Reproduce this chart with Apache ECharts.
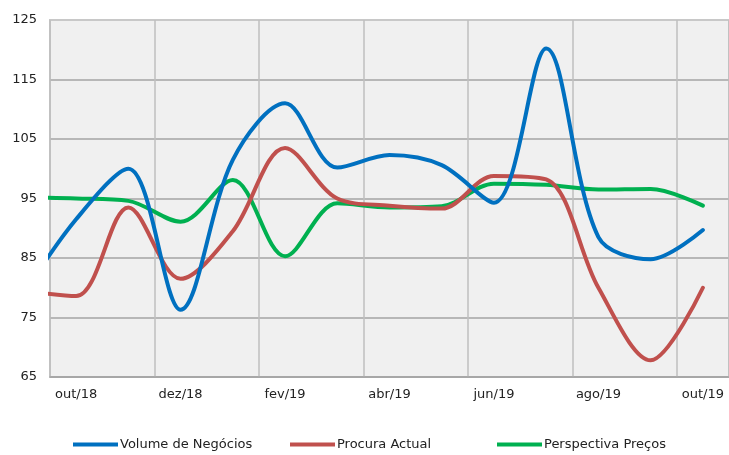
<!DOCTYPE html>
<html>
<head>
<meta charset="utf-8">
<script src="https://cdn.jsdelivr.net/npm/echarts@6/dist/echarts.min.js"></script>
<style>
  html, body { margin: 0; padding: 0; background: #ffffff; }
  #chart { width: 729px; height: 455px; }
</style>
</head>
<body>
<div id="chart"></div>
<script>
// Monthly indicators, Oct 2018 – Oct 2019 (Sep 2018 sits just left of the plot edge)
const months = ['out/18', 'nov/18', 'dez/18', 'jan/19', 'fev/19', 'mar/19', 'abr/19',
                'mai/19', 'jun/19', 'jul/19', 'ago/19', 'set/19', 'out/19'];
const prevMonth = 'set/18';

const seriesNames = ['Volume de Negócios', 'Procura Actual', 'Perspectiva Preços'];

// first value of each list is set/18, then out/18 ... out/19
const volumeNegocios     = [79.0, 91.5, 100.0, 76.3, 101.5, 111.0, 100.2, 102.3, 100.6, 94.3, 120.2, 88.5, 84.8, 89.7];
const procuraActual      = [79.5, 78.6, 93.5, 81.5, 89.5, 103.5, 95.0, 93.8, 93.3, 98.8, 98.2, 80.0, 67.8, 80.0];
const perspectivaPrecos  = [95.2, 95.0, 94.6, 91.1, 98.1, 85.3, 94.2, 93.5, 93.7, 97.5, 97.3, 96.5, 96.6, 93.8];

const yTicks = { min: 65, max: 125, step: 10 };

const colors = ['#0070c0', '#c0504d', '#00b050'];
const fontFamily = 'DejaVu Sans';

// position index: set/18 = -1, out/18 = 0 ... out/19 = 12
function toPoints(values) {
  return values.map((v, i) => [i - 1, v]);
}

const chart = echarts.init(document.getElementById('chart'), null, { renderer: 'canvas' });

const legendLefts = [73, 290, 497];

const option = {
  animation: false,
  backgroundColor: '#ffffff',
  grid: {
    left: 50, top: 20, right: -3, bottom: 78,
    show: true,
    backgroundColor: '#f0f0f0',
    borderColor: '#c8c8c8',
    borderWidth: 2
  },
  legend: seriesNames.map((name, k) => ({
    data: [name],
    left: legendLefts[k],
    top: 438,
    padding: 0,
    icon: 'rect',
    itemWidth: 45,
    itemHeight: 4,
    textStyle: { fontFamily, fontSize: 13, color: '#222222', padding: [0, 0, 0, -3] }
  })),
  xAxis: [
    {
      type: 'category',
      data: months,
      boundaryGap: true,
      axisLine: { show: true, lineStyle: { color: '#a5a5a5', width: 1.5 } },
      axisTick: { show: false },
      axisLabel: { interval: 1, fontFamily, fontSize: 13, color: '#222222', margin: 11 },
      splitLine: { show: true, interval: 1, lineStyle: { color: '#bfbfbf', width: 1.5 } }
    },
    {
      type: 'value',
      min: -0.5,
      max: months.length - 0.5,
      show: false
    }
  ],
  yAxis: {
    type: 'value',
    min: yTicks.min,
    max: yTicks.max,
    interval: yTicks.step,
    axisLine: { show: false },
    axisTick: { show: false },
    axisLabel: { fontFamily, fontSize: 13, color: '#222222', margin: 13 },
    splitLine: {
      show: true,
      lineStyle: {
        color: ['#a5a5a5', '#a5a5a5', '#a5a5a5', '#a5a5a5', '#a5a5a5', '#a5a5a5', '#c8c8c8'],
        width: 1.5
      }
    }
  },
  series: [volumeNegocios, procuraActual, perspectivaPrecos].map((vals, k) => ({
    name: seriesNames[k],
    type: 'line',
    xAxisIndex: 1,
    data: toPoints(vals),
    smooth: 0.33,
    showSymbol: false,
    symbol: 'none',
    clip: true,
    z: 3 + (2 - k),
    color: colors[k],
    lineStyle: { color: colors[k], width: 4, cap: 'round', join: 'round' }
  }))
};

chart.setOption(option);
</script>
</body>
</html>
